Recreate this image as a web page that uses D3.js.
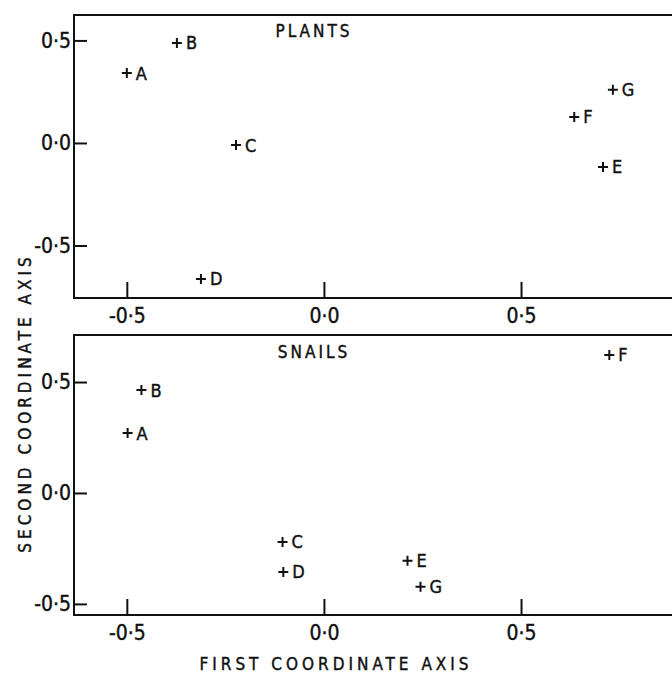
<!DOCTYPE html>
<html lang="en">
<head>
	<meta charset="UTF-8">
	<title>Plants and snails: coordinate plots</title>
	<script src="https://cdn.jsdelivr.net/npm/d3@7"></script>
	<style type="text/css">
		body { margin: 0; background: #fff; }
		text { font-family: "DejaVu Sans Condensed", "Liberation Sans Narrow", "DejaVu Sans", sans-serif; fill: #111; stroke: #111; stroke-width: 0.4px; }
		.tick line { stroke: #111; stroke-width: 2; }
		.tick text { font-size: 21px; }
		.frame { stroke: #111; stroke-width: 2; fill: none; }
		.cross { stroke: #111; stroke-width: 2; fill: none; }
		.site { font-size: 18px; }
		.title { font-size: 17px; letter-spacing: 3px; }
		.axis-title { font-size: 17px; letter-spacing: 4px; }
	</style>
</head>
<body>

<script type="text/javascript">
	// sites in both ordinations
	var sites = ['A', 'B', 'C', 'D', 'E', 'F', 'G'];

	var plantsX = [-0.50, -0.373, -0.223, -0.312, 0.708, 0.635, 0.733];
	var plantsY = [0.341, 0.488, -0.010, -0.663, -0.117, 0.127, 0.259];

	var snailsX = [-0.498, -0.463, -0.105, -0.103, 0.212, 0.724, 0.245];
	var snailsY = [0.270, 0.464, -0.221, -0.356, -0.306, 0.622, -0.423];

	var ticks = [-0.5, 0.0, 0.5];
	var tickLabel = function (d) {
		return (d < 0 ? '-' : '') + Math.abs(d).toFixed(1).replace('.', '\u00b7');
	};

	window.onload = function () {

		var width = 672, height = 675;

		var svg = d3.select('body').append('svg')
			.attr('width', width)
			.attr('height', height);

		var x = d3.scaleLinear()
			.domain([-0.634, 0.883])
			.range([74, 672]);

		var panels = [
			{name: 'PLANTS', xs: plantsX, ys: plantsY, top: 15, bottom: 298, ydom: [-0.756, 0.624], titleX: 314, titleY: 37},
			{name: 'SNAILS', xs: snailsX, ys: snailsY, top: 335, bottom: 615, ydom: [-0.55, 0.712], titleX: 314, titleY: 358}
		];

		panels.forEach(function (p) {
			var y = d3.scaleLinear()
				.domain(p.ydom)
				.range([p.bottom, p.top]);

			var g = svg.append('g');

			g.append('g')
				.attr('transform', 'translate(' + x.range()[0] + ',0)')
				.call(d3.axisLeft(y).tickValues(ticks).tickSize(-13).tickPadding(3).tickFormat(tickLabel))
				.call(function (a) { a.select('.domain').remove(); });

			g.append('g')
				.attr('transform', 'translate(0,' + p.bottom + ')')
				.call(d3.axisBottom(x).tickValues(ticks).tickSize(-16).tickPadding(10).tickFormat(tickLabel))
				.call(function (a) { a.select('.domain').remove(); });

			// open frame: top, left, bottom
			g.append('path')
				.attr('class', 'frame')
				.attr('d', 'M' + x.range()[1] + ',' + p.top + 'H' + x.range()[0] + 'V' + p.bottom + 'H' + x.range()[1]);

			g.append('text')
				.attr('class', 'title')
				.attr('x', p.titleX)
				.attr('y', p.titleY)
				.attr('text-anchor', 'middle')
				.text(p.name);

			var pts = g.selectAll('.pt')
				.data(sites)
				.enter().append('g')
				.attr('class', 'pt')
				.attr('transform', function (d, i) {
					return 'translate(' + x(p.xs[i]) + ',' + y(p.ys[i]) + ')';
				});

			pts.append('path')
				.attr('class', 'cross')
				.attr('d', 'M-5,0H5M0,-5V5');

			pts.append('text')
				.attr('class', 'site')
				.attr('x', 9)
				.attr('dy', '0.36em')
				.text(function (d) { return d; });
		});

		svg.append('text')
			.attr('class', 'axis-title')
			.attr('x', 336)
			.attr('y', 670)
			.attr('text-anchor', 'middle')
			.text('FIRST COORDINATE AXIS');

		svg.append('text')
			.attr('class', 'axis-title')
			.attr('transform', 'translate(31,403) rotate(-90)')
			.attr('text-anchor', 'middle')
			.text('SECOND COORDINATE AXIS');
	};
</script>

</body>
</html>
